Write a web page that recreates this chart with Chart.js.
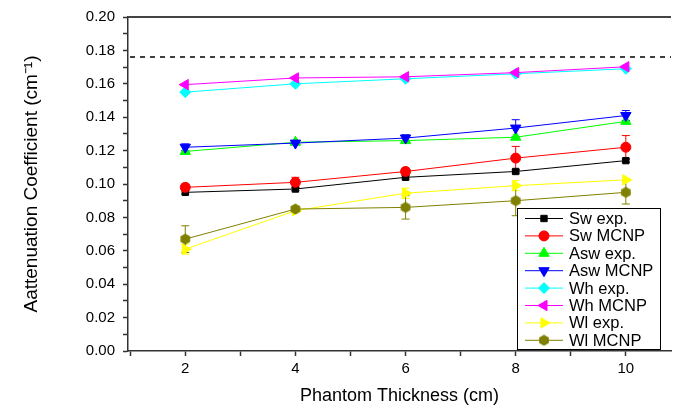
<!DOCTYPE html>
<html>
<head>
<meta charset="utf-8">
<script src="https://cdn.jsdelivr.net/npm/chart.js@4"></script>
<style>
  html, body { margin: 0; padding: 0; background: #fff; }
  #wrap { width: 678px; height: 405px; }
</style>
</head>
<body>
<div id="wrap"><canvas id="chart1"></canvas></div>
<script>
// valores
const thickness = [2, 4, 6, 8, 10];
const swExp   = [0.095, 0.097, 0.104, 0.1075, 0.114];
const swMcnp  = [0.098, 0.101, 0.1075, 0.1155, 0.122];
const aswExp  = [0.1195, 0.125, 0.126, 0.128, 0.1375];
const aswMcnp = [0.122, 0.1245, 0.1275, 0.1335, 0.141];
const whExp   = [0.155, 0.160, 0.163, 0.166, 0.169];
const whMcnp  = [0.1595, 0.1635, 0.1642, 0.1667, 0.1702];
const wlExp   = [0.061, 0.084, 0.0945, 0.099, 0.1025];
const wlMcnp  = [0.067, 0.085, 0.086, 0.090, 0.095];

// barras de erro
const swExpErr   = [0.001, 0.001, 0.001, 0.001, 0.001];
const swMcnpErr  = [0.002, 0.003, 0.002, 0.007, 0.007];
const aswExpErr  = [0, 0, 0, 0, 0];
const aswMcnpErr = [0.002, 0.001, 0.002, 0.005, 0.003];
const wlExpErr   = [0.003, 0, 0.003, 0.003, 0];
const wlMcnpErr  = [0.008, 0.001, 0.007, 0.009, 0.007];

const refLine = 0.176;
const seriesNames = ["Sw exp.", "Sw MCNP", "Asw exp.", "Asw MCNP", "Wh exp.", "Wh MCNP", "Wl exp.", "Wl MCNP"];
const yTitle = "Aattenuation Coefficient (cm\u207B\u00B9)";
const xTitle = "Phantom Thickness (cm)";

const FONT = "'Liberation Sans', Arial, sans-serif";

// hexagono para o Wl MCNP
function hexagon(color) {
    let c = document.createElement("canvas");
    c.width = 12; c.height = 12;
    let g = c.getContext("2d");
    g.fillStyle = color;
    g.beginPath();
    for (let i = 0; i < 6; i++) {
        let a = Math.PI / 3 * i - Math.PI / 2;
        let px = 6 + 5.6 * Math.cos(a), py = 6 + 5.6 * Math.sin(a);
        if (i === 0) g.moveTo(px, py); else g.lineTo(px, py);
    }
    g.closePath();
    g.fill();
    return c;
}
const hexOlive = hexagon("#808000");

function serie(i, values, color, style, rotation, errors, radius) {
    return {
        label: seriesNames[i],
        data: thickness.map((x, k) => ({ x: x, y: values[k] })),
        borderColor: color,
        backgroundColor: color,
        borderWidth: 1,
        pointStyle: style,
        pointRotation: rotation,
        pointRadius: radius || 5,
        pointBorderWidth: 1,
        tension: 0,
        errors: errors,
        order: 10 - i
    };
}

const datasets = [
    serie(0, swExp, "#000000", "rect", 0, swExpErr, 4.5),
    serie(1, swMcnp, "#ff0000", "circle", 0, swMcnpErr),
    serie(2, aswExp, "#00ff00", "triangle", 0, aswExpErr, 6),
    serie(3, aswMcnp, "#0000ff", "triangle", 180, aswMcnpErr, 6),
    serie(4, whExp, "#00ffff", "rectRot", 0, null, 5.5),
    serie(5, whMcnp, "#ff00ff", "triangle", 270, null, 6),
    serie(6, wlExp, "#ffff00", "triangle", 90, wlExpErr, 6),
    serie(7, wlMcnp, "#808000", hexOlive, 0, wlMcnpErr)
];

// linhas extra: tracejada, borda de cima, barras de erro
const extras = {
    id: "extras",
    beforeDatasetsDraw(chart) {
        const ctx = chart.ctx, xs = chart.scales.x, ys = chart.scales.y;
        ctx.save();
        ctx.lineWidth = 1;
        chart.data.datasets.forEach(ds => {
            if (!ds.errors) return;
            ctx.strokeStyle = ds.borderColor;
            ds.data.forEach((p, k) => {
                let e = ds.errors[k];
                if (!e) return;
                let x = xs.getPixelForValue(p.x);
                let y1 = ys.getPixelForValue(p.y - e), y2 = ys.getPixelForValue(p.y + e);
                ctx.beginPath();
                ctx.moveTo(x, y1); ctx.lineTo(x, y2);
                ctx.moveTo(x - 4, y1); ctx.lineTo(x + 4, y1);
                ctx.moveTo(x - 4, y2); ctx.lineTo(x + 4, y2);
                ctx.stroke();
            });
        });
        ctx.restore();
    },
    afterDraw(chart) {
        const ctx = chart.ctx, ca = chart.chartArea, ys = chart.scales.y;
        ctx.save();
        // linha tracejada
        let yr = ys.getPixelForValue(refLine);
        ctx.strokeStyle = "#000";
        ctx.lineWidth = 1.5;
        ctx.setLineDash([5, 5]);
        ctx.beginPath();
        ctx.moveTo(ca.left + 2, yr); ctx.lineTo(ca.right, yr);
        ctx.stroke();
        ctx.setLineDash([]);
        // borda de cima
        ctx.strokeStyle = "#444";
        ctx.lineWidth = 2;
        ctx.beginPath();
        ctx.moveTo(ca.left, ca.top); ctx.lineTo(ca.right, ca.top);
        ctx.stroke();

        // legenda dentro do grafico
        let w = 143, h = 141;
        let bx = ca.right - 11 - w, by = ca.bottom - 2 - h;
        ctx.fillStyle = "#fff";
        ctx.fillRect(bx, by, w, h);
        ctx.strokeStyle = "#000";
        ctx.lineWidth = 1;
        ctx.strokeRect(bx + 0.5, by + 0.5, w, h);
        ctx.font = "16.5px " + FONT;
        ctx.textBaseline = "middle";
        chart.data.datasets.forEach((ds, i) => {
            let cy = by + 10.5 + i * 17.4;
            ctx.strokeStyle = ds.borderColor;
            ctx.lineWidth = 1;
            ctx.beginPath();
            ctx.moveTo(bx + 8, cy); ctx.lineTo(bx + 46, cy);
            ctx.stroke();
            ctx.fillStyle = ds.backgroundColor;
            Chart.helpers.drawPoint(ctx, {
                pointStyle: ds.pointStyle,
                radius: ds.pointRadius,
                rotation: ds.pointRotation,
                borderWidth: 1
            }, bx + 27, cy);
            ctx.fillStyle = "#000";
            ctx.fillText(ds.label, bx + 52, cy + 1);
        });
        ctx.restore();
    }
};

let ctx = document.getElementById("chart1").getContext("2d");
new Chart(ctx, {
    type: "line",
    data: { datasets: datasets },
    options: {
        responsive: true,
        maintainAspectRatio: false,
        animation: false,
        layout: { padding: { top: 16, right: 0, left: 0, bottom: 0 } },
        plugins: {
            legend: { display: false },
            tooltip: { enabled: false }
        },
        scales: {
            x: {
                type: "linear",
                min: 0.96,
                max: 10.82,
                afterBuildTicks: axis => {
                    axis.ticks = [1, 2, 3, 4, 5, 6, 7, 8, 9, 10].map(v => ({ value: v }));
                },
                afterFit: axis => { axis.height = 54; },
                grid: { drawOnChartArea: false, tickLength: 5, color: "#333", tickWidth: 1.5 },
                border: { color: "#333", width: 1.5 },
                ticks: {
                    padding: 4,
                    color: "#000",
                    font: { family: FONT, size: 15 },
                    maxRotation: 0,
                    autoSkip: false,
                    callback: v => (v % 2 === 0 ? String(v) : "")
                },
                title: {
                    display: true,
                    text: xTitle,
                    color: "#000",
                    font: { family: FONT, size: 18, lineHeight: 1.0 },
                    padding: { top: 0, bottom: 0 }
                }
            },
            y: {
                min: 0,
                max: 0.2,
                afterBuildTicks: axis => {
                    let t = [];
                    for (let i = 0; i <= 20; i++) t.push({ value: i / 100 });
                    axis.ticks = t;
                },
                afterFit: axis => { axis.width = 128; },
                grid: { drawOnChartArea: false, tickLength: 5, color: "#333", tickWidth: 1.5 },
                border: { color: "#333", width: 1.5 },
                ticks: {
                    padding: 8,
                    color: "#000",
                    font: { family: FONT, size: 15 },
                    autoSkip: false,
                    callback: v => (Math.round(v * 100) % 2 === 0 ? v.toFixed(2) : "")
                },
                title: {
                    display: true,
                    text: yTitle,
                    color: "#000",
                    font: { family: FONT, size: 19, lineHeight: 1.1 },
                    padding: { top: 21, bottom: 0 }
                }
            }
        }
    },
    plugins: [extras]
});
</script>
</body>
</html>
